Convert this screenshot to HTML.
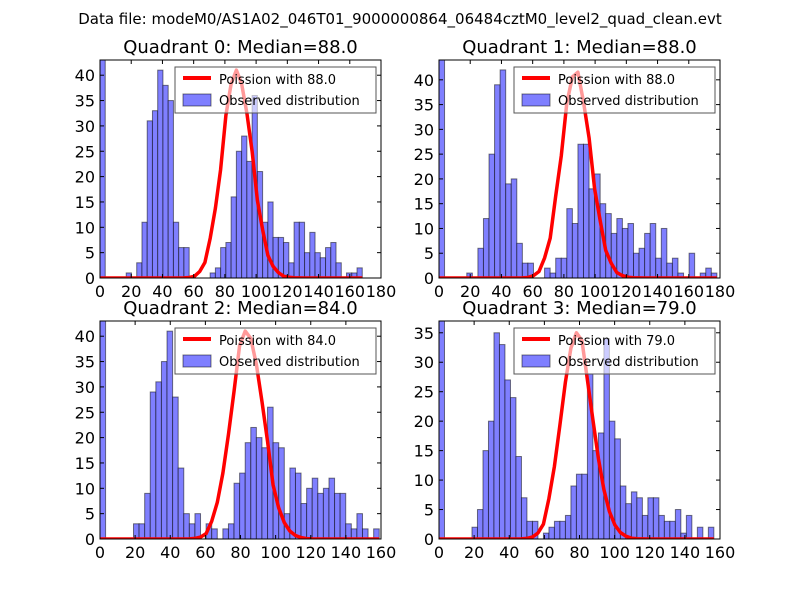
<!DOCTYPE html>
<html><head><meta charset="utf-8"><style>
body{margin:0;background:#fff;}
svg{display:block;font-family:"DejaVu Sans","Liberation Sans",sans-serif;}
</style></head><body>
<svg id="fig" width="800" height="600" viewBox="0 0 800 600" xmlns="http://www.w3.org/2000/svg">
<rect width="800" height="600" fill="#fff"/>
<text x="400" y="24" font-size="15" text-anchor="middle">Data file: modeM0/AS1A02_046T01_9000000864_06484cztM0_level2_quad_clean.evt</text>
</svg>
<script>
const q0Counts=[43,0,0,0,0,1,0,3,11,31,33,41,38,35,11,6,6,0,0,0,0,1,2,6,7,16,25,28,23,36,21,11,15,8,8,7,3,11,11,5,9,5,4,6,7,3,0,1,1,2];
const q1Counts=[44,0,0,0,0,1,0,6,12,25,39,42,19,20,7,3,3,0,0,2,1,4,4,14,11,27,27,18,21,15,13,9,12,10,11,5,6,9,11,4,10,3,4,1,0,5,0,1,2,1];
const q2Counts=[43,0,0,0,0,0,3,3,9,29,31,35,41,28,14,5,3,5,0,3,2,0,2,3,11,13,19,22,20,18,26,19,18,5,14,13,7,10,12,9,10,12,9,9,3,2,5,2,0,2];
const q3Counts=[37,0,0,0,0,0,2,5,15,20,35,33,27,24,14,7,3,3,0,1,2,3,3,4,9,11,11,28,15,18,34,20,17,9,6,8,7,4,7,7,4,3,3,5,1,4,0,2,0,2];
const binWidths=[3.36,3.56,3.18,3.13];
const medians=[88.0,88.0,84.0,79.0];
const xTickLabels=[[0,20,40,60,80,100,120,140,160,180],[0,20,40,60,80,100,120,140,160,180],[0,20,40,60,80,100,120,140,160],[0,20,40,60,80,100,120,140,160]];
const yTickLabels=[[0,5,10,15,20,25,30,35,40],[0,5,10,15,20,25,30,35,40],[0,5,10,15,20,25,30,35,40],[0,5,10,15,20,25,30,35]];
const xMaxes=[180,180,160,160];
const yMaxes=[43,44,43,37];

const NS="http://www.w3.org/2000/svg";
const svg=document.getElementById('fig');
function mk(tag,attrs,parent){const e=document.createElementNS(NS,tag);for(const k in attrs)e.setAttribute(k,attrs[k]);(parent||svg).appendChild(e);return e;}
const boxes=[[100,60,381,278],[439,60,720,278],[100,321,381,539],[439,321,720,539]];
const allCounts=[q0Counts,q1Counts,q2Counts,q3Counts];
function logPmf(k,l){let s=0;for(let i=2;i<=k;i++)s+=Math.log(i);return k*Math.log(l)-l-s;}

for(let q=0;q<4;q++){
  const [L,T,R,B]=boxes[q];
  const counts=allCounts[q],w=binWidths[q];
  const xs=v=>L+(R-L)*v/xMaxes[q];
  const ys=v=>B-(B-T)*v/yMaxes[q];
  const g=mk('g',{});
  
  
  const title=mk('text',{x:(L+R)/2,y:T-7,'font-size':18,'text-anchor':'middle'},g);
  title.textContent='Quadrant '+q+': Median='+medians[q].toFixed(1);
  
  
  const clip=mk('clipPath',{id:'c'+q},g);mk('rect',{x:L,y:T,width:R-L,height:B-T},clip);
  const bars=mk('g',{'clip-path':'url(#c'+q+')'},g);
  counts.forEach((c,i)=>{
    if(c<=0)return;
    const r=mk('rect',{x:xs(i*w),y:ys(c),width:xs((i+1)*w)-xs(i*w),height:ys(0)-ys(c),fill:'rgb(127,127,255)',stroke:'rgba(0,0,0,0.5)','stroke-width':1},bars);
    
    
  });
  // Poisson curve scaled to max observed (excluding first bin)
  const lam=medians[q];
  const peak=Math.max(...counts.slice(1));
  let pmax=-1e9;for(let k=0;k<=200;k++)pmax=Math.max(pmax,logPmf(k,lam));
  const end=counts.length*w;
  let d='';
  for(let i=0;i<=counts.length;i++){
    const x=Math.min(i*w,end);
    const k=Math.round(x);
    const v=peak*Math.exp(logPmf(k,lam)-pmax);
    d+=(i?'L':'M')+xs(x).toFixed(1)+' '+ys(v).toFixed(1);
  }
  const line=mk('path',{d:d,fill:'none',stroke:'#ff0000','stroke-width':3.5,'stroke-linejoin':'round','clip-path':'url(#c'+q+')'},g);
  
  
  // axes frame
  const fr=mk('rect',{x:L,y:T,width:R-L,height:B-T,fill:'none',stroke:'#000','stroke-width':1},g);
  
  
  xTickLabels[q].forEach(v=>{
    const x=xs(v);
    mk('line',{x1:x,y1:B,x2:x,y2:B-4,stroke:'#000'},g);
    mk('line',{x1:x,y1:T,x2:x,y2:T+4,stroke:'#000'},g);
    const t=mk('text',{x:x,y:B+19,'font-size':16,'text-anchor':'middle'},g);
    t.textContent=v;
    
    
  });
  yTickLabels[q].forEach(v=>{
    const y=ys(v);
    mk('line',{x1:L,y1:y,x2:L+4,y2:y,stroke:'#000'},g);
    mk('line',{x1:R,y1:y,x2:R-4,y2:y,stroke:'#000'},g);
    const t=mk('text',{x:L-5,y:y+6,'font-size':16,'text-anchor':'end'},g);
    t.textContent=v;
    
    
  });
  // legend
  const lg=mk('g',{},g);
  
  
  const lx=R-206,ly=T+7;
  mk('rect',{x:lx,y:ly,width:201,height:46,fill:'rgba(255,255,255,0.6)',stroke:'#555','stroke-width':1},lg);
  mk('line',{x1:lx+8,y1:ly+11,x2:lx+36,y2:ly+11,stroke:'#ff0000','stroke-width':4},lg);
  const t1=mk('text',{x:lx+44,y:ly+17,'font-size':13},lg);t1.textContent='Poission with '+medians[q].toFixed(1);
  
  
  mk('rect',{x:lx+8,y:ly+27,width:28,height:12,fill:'rgb(127,127,255)',stroke:'rgba(0,0,0,0.5)'},lg);
  const t2=mk('text',{x:lx+44,y:ly+38,'font-size':13},lg);t2.textContent='Observed distribution';
  
  
}
</script>
</body></html>
